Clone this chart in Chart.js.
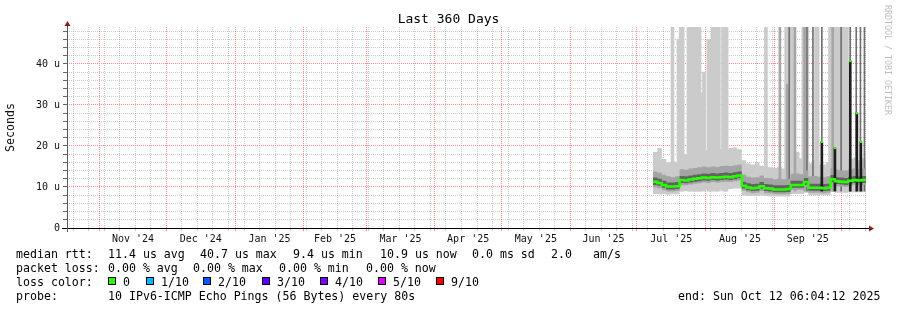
<!DOCTYPE html>
<html>
<head>
<meta charset="utf-8">
<script src="https://cdn.jsdelivr.net/npm/chart.js@4.4.1/dist/chart.umd.min.js"></script>
<style>
  html, body { margin: 0; padding: 0; background: #fff; }
  #wrap { position: relative; width: 897px; height: 310px; overflow: hidden;
          font-family: "DejaVu Sans Mono", monospace; color: #000; }
  #wrap canvas { position: absolute; left: 0; top: 0; }
  .t { position: absolute; white-space: pre; font-size: 11.6px; line-height: 14px; }
  .sq { position: absolute; top: 277px; width: 8px; height: 8px; border: 1px solid #000; box-sizing: border-box; }
  #title { position: absolute; left: 0; top: 12px; width: 897px; text-align: center;
           font-size: 13px; line-height: 14px; }
  #mark { position: absolute; left: 883px; top: 5px; writing-mode: vertical-rl;
          font-size: 8.3px; line-height: 10px; color: #bdbdbd; white-space: pre; }
</style>
</head>
<body>
<div id="wrap">
  <canvas id="smoke" width="897" height="310"></canvas>
  <div id="title">Last 360 Days</div>
  <div id="mark">RRDTOOL / TOBI OETIKER</div>

  <div class="t" style="left:16px;top:247px">median rtt:</div>
  <div class="t" style="left:108px;top:247px">11.4 us avg</div>
  <div class="t" style="left:200px;top:247px">40.7 us max</div>
  <div class="t" style="left:293px;top:247px">9.4 us min</div>
  <div class="t" style="left:380px;top:247px">10.9 us now</div>
  <div class="t" style="left:472px;top:247px">0.0 ms sd</div>
  <div class="t" style="left:551px;top:247px">2.0</div>
  <div class="t" style="left:593px;top:247px">am/s</div>

  <div class="t" style="left:16px;top:261px">packet loss:</div>
  <div class="t" style="left:108px;top:261px">0.00 % avg</div>
  <div class="t" style="left:193px;top:261px">0.00 % max</div>
  <div class="t" style="left:279px;top:261px">0.00 % min</div>
  <div class="t" style="left:366px;top:261px">0.00 % now</div>

  <div class="t" style="left:16px;top:275px">loss color:</div>
  <div class="sq" style="left:108px;background:#26ff00"></div>
  <div class="t" style="left:123px;top:275px">0</div>
  <div class="sq" style="left:146px;background:#00b8ff"></div>
  <div class="t" style="left:161px;top:275px">1/10</div>
  <div class="sq" style="left:203px;background:#0059ff"></div>
  <div class="t" style="left:218px;top:275px">2/10</div>
  <div class="sq" style="left:262px;background:#5e00ff"></div>
  <div class="t" style="left:277px;top:275px">3/10</div>
  <div class="sq" style="left:320px;background:#7e00ff"></div>
  <div class="t" style="left:335px;top:275px">4/10</div>
  <div class="sq" style="left:378px;background:#dd00ff"></div>
  <div class="t" style="left:393px;top:275px">5/10</div>
  <div class="sq" style="left:436px;background:#ff0000"></div>
  <div class="t" style="left:451px;top:275px">9/10</div>

  <div class="t" style="left:16px;top:289px">probe:</div>
  <div class="t" style="left:108px;top:289px">10 IPv6-ICMP Echo Pings (56 Bytes) every 80s</div>
  <div class="t" style="left:678px;top:289px">end: Sun Oct 12 06:04:12 2025</div>
</div>

<script>
// x axis is in days since the start of the window (Oct 17 2024 06:04), 360 days wide
const monthStarts = [14.75, 44.75, 75.75, 106.75, 134.75, 165.75, 195.75, 226.75, 256.75, 287.75, 318.75, 348.75];
const monthLabelDays = [29.75, 60.25, 91.25, 120.75, 150.25, 180.75, 211.25, 241.75, 272.25, 303.25, 333.75];
const monthLabels = ["Nov '24", "Dec '24", "Jan '25", "Feb '25", "Mar '25", "Apr '25", "May '25", "Jun '25", "Jul '25", "Aug '25", "Sep '25"];
const yTickLabels = ['0', '10 u', '20 u', '30 u', '40 u'];

// smoke samples (values in microseconds)
const days = [264, 266, 268, 270, 272, 274, 276, 278, 280, 282, 284, 286, 288, 290, 292, 294, 296, 298, 300, 302,
  304, 306, 308, 310, 312, 314, 316, 318, 320, 322, 324, 326, 328, 330, 332, 334, 336, 338, 340, 342,
  344, 346, 348, 350, 352, 354, 356, 358, 360];
const median = [11.3, 11.0, 10.5, 10.1, 10.1, 10.2, 11.7, 11.6, 11.8, 12.0, 12.1, 12.3, 12.2, 12.4, 12.3, 12.4, 12.5, 12.4, 12.6, 12.8,
  10.3, 9.9, 9.7, 9.8, 10.2, 9.7, 9.6, 9.4, 9.4, 9.4, 9.5, 10.5, 10.5, 10.5, 11.2, 9.8, 9.8, 9.8, 9.7, 9.8,
  11.9, 11.4, 11.3, 11.2, 11.5, 11.7, 11.6, 11.7, 11.6];
const outerHi = [18.5, 19.5, 16.8, 16.0, 16.3, 16.0, 17.5, 18.0, 18.8, 18.5, 19.5, 18.8, 19.0, 18.6, 18.5, 19.3, 19.0, 19.5, 19.6, 19.2,
  16.5, 15.8, 15.5, 16.0, 15.2, 15.0, 14.8, 14.6, 14.8, 14.5, 15.0, 17.5, 18.5, 17.0, 18.0, 15.8, 16.5, 15.5, 15.5, 16.0,
  17.0, 17.5, 16.5, 17.0, 16.8, 17.2, 16.5, 17.0, 16.8];
const outerLo = [8.3, 8.2, 8.2, 8.1, 8.2, 8.2, 9.0, 9.0, 9.1, 9.2, 9.2, 9.3, 9.3, 9.4, 9.4, 9.4, 9.5, 9.5, 9.6, 9.6,
  7.9, 7.8, 7.8, 7.8, 7.9, 7.8, 7.7, 7.7, 7.7, 7.7, 7.7, 8.3, 8.3, 8.3, 8.6, 8.0, 8.0, 8.0, 8.0, 8.0,
  8.8, 8.6, 8.6, 8.6, 8.7, 8.7, 8.7, 8.7, 8.7];
const midHi = [13.8, 13.5, 13.0, 12.6, 12.4, 12.6, 14.3, 14.2, 14.5, 14.6, 14.8, 15.0, 14.8, 15.0, 14.9, 15.1, 15.2, 15.1, 15.3, 15.5,
  13.0, 12.5, 12.3, 12.4, 12.8, 12.2, 12.1, 11.9, 12.0, 11.9, 12.0, 13.2, 13.3, 13.1, 14.0, 12.6, 12.7, 12.5, 12.4, 12.6,
  14.6, 14.2, 14.0, 14.0, 14.3, 14.5, 14.4, 14.5, 14.4];
const midLo = [9.9, 9.7, 9.2, 8.9, 8.9, 9.0, 10.4, 10.4, 10.6, 10.8, 10.9, 11.1, 11.0, 11.2, 11.1, 11.2, 11.3, 11.2, 11.4, 11.6,
  9.1, 8.7, 8.5, 8.6, 9.0, 8.5, 8.4, 8.2, 8.2, 8.2, 8.3, 9.3, 9.3, 9.3, 10.0, 8.6, 8.6, 8.6, 8.5, 8.6,
  10.7, 10.2, 10.1, 10.0, 10.3, 10.5, 10.4, 10.5, 10.4];
const innerHi = [12.3, 12.0, 11.5, 11.1, 11.1, 11.2, 12.7, 12.6, 12.8, 13.0, 13.1, 13.3, 13.2, 13.4, 13.3, 13.4, 13.5, 13.4, 13.6, 13.8,
  11.3, 10.9, 10.7, 10.8, 11.2, 10.7, 10.6, 10.4, 10.4, 10.4, 10.5, 11.5, 11.5, 11.5, 12.2, 10.8, 10.8, 10.8, 10.7, 10.8,
  12.9, 12.4, 12.3, 12.2, 12.5, 12.7, 12.6, 12.7, 12.6];
const innerLo = [10.5, 10.3, 9.8, 9.4, 9.4, 9.5, 11.0, 10.9, 11.1, 11.3, 11.4, 11.6, 11.5, 11.7, 11.6, 11.7, 11.8, 11.7, 11.9, 12.1,
  9.6, 9.2, 9.0, 9.1, 9.5, 9.0, 8.9, 8.7, 8.7, 8.7, 8.8, 9.8, 9.8, 9.8, 10.5, 9.1, 9.1, 9.1, 9.0, 9.1,
  11.2, 10.7, 10.6, 10.5, 10.8, 11.0, 10.9, 11.0, 10.9];

// outlier pings (spikes)
const lightSpikeDays = [272.8, 275.5, 276.5, 277.4, 280.0, 280.7, 281.8, 282.5, 283.5, 284.3, 285.0, 285.8, 287.0,
  289.0, 290.0, 291.0, 292.0, 293.0, 293.7, 295.6, 296.5, 297.2, 314.9, 324.0, 325.0, 326.0, 327.0,
  331.8, 332.6, 333.5, 337.5, 338.2, 343.8, 344.6, 345.6, 346.5, 347.3, 348.0, 349.8, 350.6, 351.4];
const lightSpikeTops = [49, 46, 49, 49, 49, 49, 49, 49, 49, 49, 49, 33, 38,
  46, 46, 49, 49, 49, 49, 49, 49, 49, 49, 49, 49, 49, 49,
  49, 49, 49, 49, 49, 49, 49, 49, 49, 49, 49, 49, 49, 49];
const midSpikeDays = [321.2, 324.5, 328.0, 332.3, 345.0];
const midSpikeTops = [49, 35, 49, 49, 49];
const darkSpikeDays = [325.4, 333.4, 336.1, 340.1, 348.8, 352.9, 355.6, 357.5, 359.3];
const darkSpikeTops = [49, 49, 49, 49, 49, 49, 49, 49, 49];
const medianSpikeDays = [340.1, 346.0, 352.9, 355.9, 357.7];
const medianSpikeValues = [21.0, 19.5, 40.7, 28.0, 21.0];

const SPIKE_BASE = 9;
const pts = (xs, ys) => xs.map((x, i) => ({ x: x, y: ys[i] }));
const bars = (xs, tops) => xs.map((x, i) => ({ x: x, y: [SPIKE_BASE, tops[i]] }));

// grid: weekly minor lines (Sundays), red lines at month starts, labels mid-month
const weekLines = [];
for (let d = 2.75; d < 360; d += 7) weekLines.push(d);
const xTickValues = Array.from(new Set([...weekLines, ...monthStarts, ...monthLabelDays])).sort((a, b) => a - b);
const yTickValues = [];
for (let v = 0; v <= 48; v += 2) yTickValues.push(v);

const MINOR = 'rgba(0,0,0,0.2)';
const MAJOR = '#ff8c8c';

const band = (data, color, order, fill) => ({
  type: 'line', data: data, stepped: true, borderWidth: 0, pointRadius: 0,
  backgroundColor: color, fill: fill, order: order
});

const axisArrows = {
  id: 'axisArrows',
  afterDraw(chart) {
    const { ctx, chartArea: a } = chart;
    const b = Math.round(a.bottom) + 0.5, l = Math.round(a.left) + 0.5;
    ctx.save();
    ctx.lineWidth = 1;
    ctx.strokeStyle = '#000';
    ctx.beginPath(); ctx.moveTo(a.left - 5, b); ctx.lineTo(a.right + 4, b); ctx.stroke();
    ctx.strokeStyle = '#5a5a5a';
    ctx.beginPath(); ctx.moveTo(l, a.bottom + 4); ctx.lineTo(l, a.top - 2); ctx.stroke();
    ctx.fillStyle = '#8b1c1c';
    ctx.beginPath(); ctx.moveTo(a.right + 3, b - 3); ctx.lineTo(a.right + 8, b); ctx.lineTo(a.right + 3, b + 3); ctx.closePath(); ctx.fill();
    ctx.beginPath(); ctx.moveTo(l - 3, a.top - 1); ctx.lineTo(l, a.top - 6); ctx.lineTo(l + 3, a.top - 1); ctx.closePath(); ctx.fill();
    ctx.restore();
  }
};

const mono = 'DejaVu Sans Mono';

new Chart(document.getElementById('smoke'), {
  type: 'line',
  data: {
    datasets: [
      band(pts(days, outerLo), 'transparent', 10, false),
      band(pts(days, outerHi), '#cbcbcb', 10, '-1'),
      { type: 'bar', data: bars(lightSpikeDays, lightSpikeTops), backgroundColor: '#cbcbcb', barThickness: 3, grouped: false, order: 12 },
      { type: 'bar', data: bars(midSpikeDays, midSpikeTops), backgroundColor: '#a6a6a6', barThickness: 2, grouped: false, order: 9 },
      { type: 'bar', data: bars(darkSpikeDays, darkSpikeTops), backgroundColor: '#707070', barThickness: 1, grouped: false, order: 8 },
      band(pts(days, midLo), 'transparent', 7, false),
      band(pts(days, midHi), '#a4a4a4', 7, '-1'),
      band(pts(days, innerLo), 'transparent', 6, false),
      band(pts(days, innerHi), '#636363', 6, '-1'),
      { type: 'bar', data: bars(medianSpikeDays, medianSpikeValues), backgroundColor: '#1c1c1c', barThickness: 2, grouped: false, order: 5 },
      { type: 'line', data: pts(days, median), stepped: true, borderColor: '#26ff00', borderWidth: 2.5,
        pointRadius: 0, fill: false, order: 4 },
      { type: 'scatter', data: pts(medianSpikeDays, medianSpikeValues), showLine: false, pointStyle: 'rect',
        pointRadius: 1.6, backgroundColor: '#26ff00', borderWidth: 0, order: 3 }
    ]
  },
  options: {
    responsive: false,
    animation: false,
    events: [],
    layout: { padding: { left: 0, right: 31, top: 27, bottom: 62 } },
    plugins: { legend: { display: false }, tooltip: { enabled: false }, title: { display: false } },
    scales: {
      x: {
        type: 'linear', min: 0, max: 360, offset: false,
        afterBuildTicks: (s) => { s.ticks = xTickValues.map(v => ({ value: v })); },
        afterFit: (s) => { s.height = 20; },
        border: { display: false, dash: [1, 1] },
        grid: {
          offset: false, tickLength: 3,
          color: (c) => {
            const v = c.tick ? c.tick.value : null;
            if (monthStarts.includes(v)) return MAJOR;
            if (monthLabelDays.includes(v)) return 'transparent';
            return MINOR;
          }
        },
        ticks: {
          autoSkip: false, maxRotation: 0, padding: 2, color: '#111',
          font: { family: mono, size: 10 },
          callback: (v) => { const i = monthLabelDays.indexOf(v); return i >= 0 ? monthLabels[i] : ''; }
        }
      },
      y: {
        type: 'linear', min: 0, max: 49,
        afterBuildTicks: (s) => { s.ticks = yTickValues.map(v => ({ value: v })); },
        afterFit: (s) => { s.width = 67; },
        border: { display: false, dash: [1, 1] },
        title: { display: true, text: 'Seconds', color: '#111', font: { family: mono, size: 11.6 }, padding: { top: 4, bottom: 4 } },
        grid: {
          tickLength: 4,
          tickColor: '#666',
          color: (c) => (c.tick && c.tick.value % 10 === 0) ? MAJOR : MINOR
        },
        ticks: {
          autoSkip: false, padding: 3, color: '#111',
          font: { family: mono, size: 10 },
          callback: (v) => (v % 10 === 0 ? yTickLabels[v / 10] : '')
        }
      }
    }
  },
  plugins: [axisArrows]
});
</script>
</body>
</html>
